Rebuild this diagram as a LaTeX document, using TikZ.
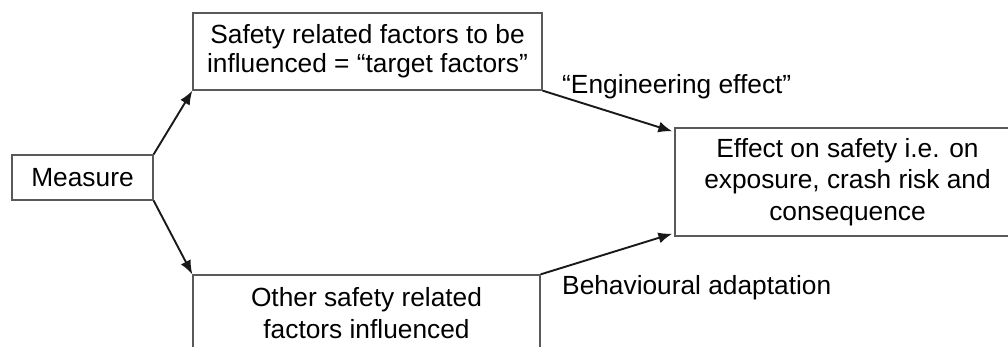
\documentclass[tikz,border=0pt]{standalone}
\usepackage{fontspec}
\setmainfont{Liberation Sans}
\usetikzlibrary{arrows.meta,calc}
\begin{document}
\begin{tikzpicture}[x=1pt,y=-1pt,
  box/.style={draw=black!65,line width=1.3pt,inner sep=0pt,align=center,
    font=\fontsize{26.3pt}{31.5pt}\selectfont},
  lbl/.style={inner sep=0pt,anchor=west,font=\fontsize{26.3pt}{31.5pt}\selectfont},
  link/.style={draw=black!90,line width=1.9pt,-{Latex[length=14pt,width=11pt]}}]
\useasboundingbox (0,0) rectangle (1008,346);
\clip (0,0) rectangle (1008,346);
% boxes
\node[box,minimum width=141pt,minimum height=45pt] (measure) at (82.5,177.5) {Measure};
\node[box,minimum width=349pt,minimum height=77pt,
  font=\fontsize{26.3pt}{29pt}\selectfont] (target) at (367.5,51.5)
  {Safety related factors to be\\influenced = “target factors”};
\node[box,minimum width=347pt,minimum height=76pt] (other) at (366.5,313)
  {Other safety related\\factors influenced};
\node[box,minimum width=345pt,minimum height=108pt] (effect) at (847.5,182)
  {Effect on safety i.e. on\\exposure, crash risk and\\consequence};
% connector labels
\node[lbl] (eng) at (562,87) {“Engineering effect”};
\node[lbl] (beh) at (562,288) {Behavioural adaptation};
% connectors
\coordinate (effin1) at ($(effect.north west)+(-2,4)$);
\coordinate (effin2) at ($(effect.south west)+(-2,-3)$);
\draw[link] (measure.north east) -- (target.south west);
\draw[link] (measure.south east) -- (other.north west);
\draw[link] (target.south east) -- (effin1);
\draw[link] (other.north east) -- (effin2);
\end{tikzpicture}
\end{document}
